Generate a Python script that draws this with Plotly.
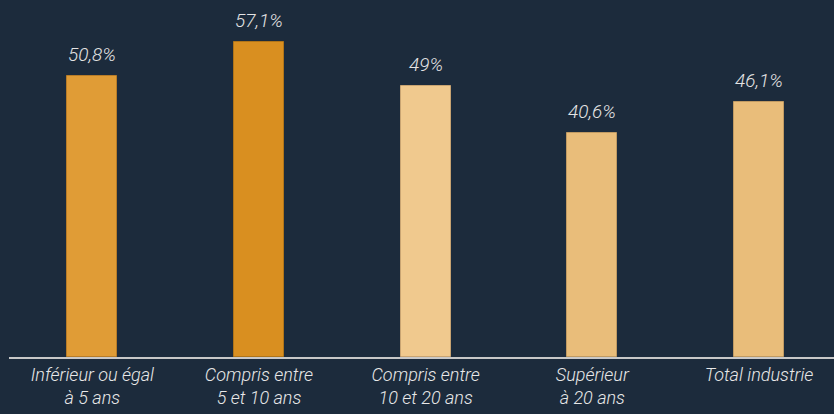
import plotly.graph_objects as go

categories = ["Inférieur ou égal<br>à 5 ans", "Compris entre<br>5 et 10 ans", "Compris entre<br>10 et 20 ans", "Supérieur<br>à 20 ans", "Total industrie"]
values = [50.8, 57.1, 49.0, 40.6, 46.1]
value_labels = ["50,8%", "57,1%", "49%", "40,6%", "46,1%"]
bar_colors = ["#e09c36", "#d98f20", "#f0c98e", "#e9bd7a", "#e9bd7a"]
bar_edges = ["#b87c28", "#b07418", "#c9a472", "#c09a62", "#c09a62"]

BG = "#1c2b3c"
FONT = "Roboto"

fig = go.Figure()
fig.add_trace(go.Bar(
    x=list(range(len(categories))), y=values,
    marker=dict(color=bar_colors, line=dict(color=bar_edges, width=1)),
    width=0.3,
    hoverinfo="skip",
))

for i, (v, t) in enumerate(zip(values, value_labels)):
    fig.add_annotation(
        x=i, y=v, text=f"<i>{t}</i>", showarrow=False,
        yanchor="bottom", yshift=8,
        font=dict(family=FONT, size=19, color="#e4e4e4", weight=300),
    )

fig.update_layout(
    width=834, height=414,
    paper_bgcolor=BG, plot_bgcolor=BG,
    margin=dict(l=9, r=0, t=10, b=57),
    showlegend=False,
    bargap=0,
    xaxis=dict(
        tickmode="array",
        tickvals=list(range(len(categories))),
        ticktext=[f"<i>{c.replace('<br>', '</i><br><i>')}</i>" for c in categories],
        range=[-0.5, 4.45],
        showline=True, linecolor="#c8c8c8", linewidth=2,
        showgrid=False, zeroline=False, ticks="",
        tickfont=dict(family=FONT, size=18, color="#e8e8e8", weight=300),
    ),
    yaxis=dict(
        range=[0, 62.8], visible=False, showgrid=False, zeroline=False,
    ),
)

fig.write_html(
    "out.html",
    config={"displayModeBar": False},
    post_script="document.body.style.margin='0';document.body.style.background='#1c2b3c';",
)
